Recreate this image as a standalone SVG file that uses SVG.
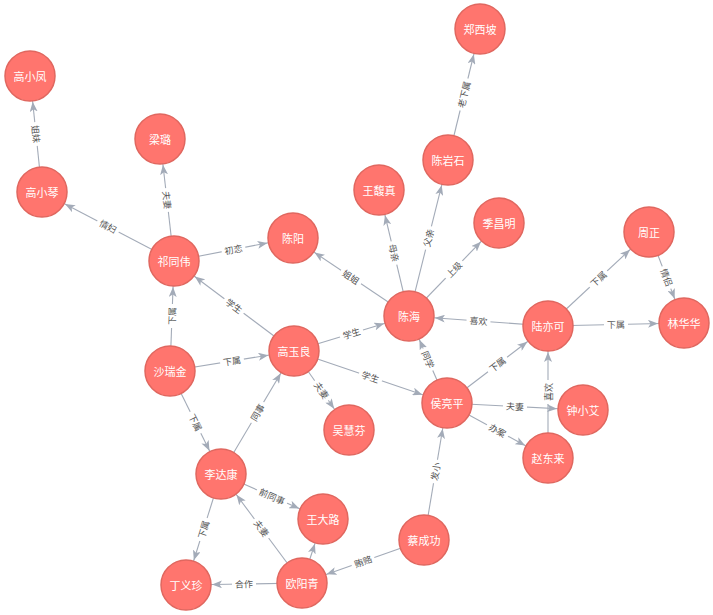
<svg xmlns="http://www.w3.org/2000/svg" width="713" height="615" viewBox="0 0 713 615">
<style>
.bg{fill:#ffffff}
.e{stroke:#a3abb8;stroke-width:1.1;fill:none;marker-end:url(#arr)}
.lb rect{fill:#ffffff}
.lb text{font-family:"Noto Sans CJK SC","Noto Sans",sans-serif;font-size:9px;fill:#555;text-anchor:middle;dominant-baseline:central}
.n circle{fill:#ff756e;stroke:#e0675f;stroke-width:1.5}
.n text{font-family:"Noto Sans CJK SC","Noto Sans",sans-serif;font-size:11px;fill:#ffffff;text-anchor:middle;dominant-baseline:central}
</style>
<defs>
<marker id="arr" markerUnits="userSpaceOnUse" markerWidth="10" markerHeight="8" refX="36" refY="4" orient="auto">
<path d="M0,0 L10,4 L0,8 L2.5,4 z" fill="#a3abb8"/>
</marker>
</defs>
<rect class="bg" x="0" y="0" width="713" height="615"/>
<g id="connectors">
<line class="e" x1="42" y1="192" x2="30" y2="76"/>
<line class="e" x1="174" y1="261" x2="42" y2="192"/>
<line class="e" x1="174" y1="261" x2="160" y2="139"/>
<line class="e" x1="174" y1="261" x2="293" y2="238"/>
<line class="e" x1="294" y1="351" x2="174" y2="261"/>
<line class="e" x1="170" y1="371" x2="174" y2="261"/>
<line class="e" x1="170" y1="371" x2="294" y2="351"/>
<line class="e" x1="170" y1="371" x2="221" y2="474"/>
<line class="e" x1="221" y1="474" x2="294" y2="351"/>
<line class="e" x1="294" y1="351" x2="349" y2="430"/>
<line class="e" x1="294" y1="351" x2="409" y2="316"/>
<line class="e" x1="294" y1="351" x2="447" y2="403"/>
<line class="e" x1="409" y1="316" x2="293" y2="238"/>
<line class="e" x1="409" y1="316" x2="379" y2="190"/>
<line class="e" x1="409" y1="316" x2="448" y2="160"/>
<line class="e" x1="409" y1="316" x2="499" y2="223"/>
<line class="e" x1="448" y1="160" x2="480" y2="29"/>
<line class="e" x1="548" y1="326" x2="409" y2="316"/>
<line class="e" x1="447" y1="403" x2="409" y2="316"/>
<line class="e" x1="447" y1="403" x2="548" y2="326"/>
<line class="e" x1="447" y1="403" x2="583" y2="410"/>
<line class="e" x1="447" y1="403" x2="548" y2="458"/>
<line class="e" x1="548" y1="458" x2="548" y2="326"/>
<line class="e" x1="548" y1="326" x2="649" y2="232"/>
<line class="e" x1="548" y1="326" x2="684" y2="323"/>
<line class="e" x1="649" y1="232" x2="684" y2="323"/>
<line class="e" x1="424" y1="540" x2="447" y2="403"/>
<line class="e" x1="424" y1="540" x2="302" y2="583"/>
<line class="e" x1="302" y1="583" x2="186" y2="585"/>
<line class="e" x1="302" y1="583" x2="221" y2="474"/>
<line class="e" x1="302" y1="583" x2="323" y2="519"/>
<line class="e" x1="221" y1="474" x2="323" y2="519"/>
<line class="e" x1="221" y1="474" x2="186" y2="585"/>
<g class="lb" transform="translate(36,134) rotate(84.1)"><rect x="-12" y="-6" width="24" height="12"/><text>姐妹</text></g>
<g class="lb" transform="translate(108,226.5) rotate(27.6)"><rect x="-12" y="-6" width="24" height="12"/><text>情妇</text></g>
<g class="lb" transform="translate(167,200) rotate(83.5)"><rect x="-12" y="-6" width="24" height="12"/><text>夫妻</text></g>
<g class="lb" transform="translate(233.5,249.5) rotate(-10.9)"><rect x="-12" y="-6" width="24" height="12"/><text>初恋</text></g>
<g class="lb" transform="translate(234,306) rotate(36.9)"><rect x="-12" y="-6" width="24" height="12"/><text>学生</text></g>
<g class="lb" transform="translate(172,316) rotate(-87.9)"><rect x="-12" y="-6" width="24" height="12"/><text>下属</text></g>
<g class="lb" transform="translate(232,361) rotate(-9.2)"><rect x="-12" y="-6" width="24" height="12"/><text>下属</text></g>
<g class="lb" transform="translate(195.5,422.5) rotate(63.7)"><rect x="-12" y="-6" width="24" height="12"/><text>下属</text></g>
<g class="lb" transform="translate(257.5,412.5) rotate(-59.3)"><rect x="-12" y="-6" width="24" height="12"/><text>同事</text></g>
<g class="lb" transform="translate(321.5,390.5) rotate(55.2)"><rect x="-12" y="-6" width="24" height="12"/><text>夫妻</text></g>
<g class="lb" transform="translate(351.5,333.5) rotate(-16.9)"><rect x="-12" y="-6" width="24" height="12"/><text>学生</text></g>
<g class="lb" transform="translate(370.5,377) rotate(18.8)"><rect x="-12" y="-6" width="24" height="12"/><text>学生</text></g>
<g class="lb" transform="translate(351,277) rotate(33.9)"><rect x="-12" y="-6" width="24" height="12"/><text>姐姐</text></g>
<g class="lb" transform="translate(394,253) rotate(76.6)"><rect x="-12" y="-6" width="24" height="12"/><text>母亲</text></g>
<g class="lb" transform="translate(428.5,238) rotate(-76)"><rect x="-12" y="-6" width="24" height="12"/><text>父亲</text></g>
<g class="lb" transform="translate(454,269.5) rotate(-45.9)"><rect x="-12" y="-6" width="24" height="12"/><text>上级</text></g>
<g class="lb" transform="translate(464,94.5) rotate(-76.3)"><rect x="-16.5" y="-6" width="33" height="12"/><text>老下属</text></g>
<g class="lb" transform="translate(478.5,321) rotate(4.1)"><rect x="-12" y="-6" width="24" height="12"/><text>喜欢</text></g>
<g class="lb" transform="translate(428,359.5) rotate(66.4)"><rect x="-12" y="-6" width="24" height="12"/><text>同学</text></g>
<g class="lb" transform="translate(497.5,364.5) rotate(-37.3)"><rect x="-12" y="-6" width="24" height="12"/><text>下属</text></g>
<g class="lb" transform="translate(515,406.5) rotate(2.9)"><rect x="-12" y="-6" width="24" height="12"/><text>夫妻</text></g>
<g class="lb" transform="translate(497.5,430.5) rotate(28.6)"><rect x="-12" y="-6" width="24" height="12"/><text>办案</text></g>
<g class="lb" transform="translate(548,392) rotate(-90)"><rect x="-12" y="-6" width="24" height="12"/><text>喜欢</text></g>
<g class="lb" transform="translate(598.5,279) rotate(-42.9)"><rect x="-12" y="-6" width="24" height="12"/><text>下属</text></g>
<g class="lb" transform="translate(616,324.5) rotate(-1.3)"><rect x="-12" y="-6" width="24" height="12"/><text>下属</text></g>
<g class="lb" transform="translate(666.5,277.5) rotate(69)"><rect x="-12" y="-6" width="24" height="12"/><text>情侣</text></g>
<g class="lb" transform="translate(435.5,471.5) rotate(-80.5)"><rect x="-12" y="-6" width="24" height="12"/><text>发小</text></g>
<g class="lb" transform="translate(363,561.5) rotate(-19.4)"><rect x="-12" y="-6" width="24" height="12"/><text>贿赂</text></g>
<g class="lb" transform="translate(244,584) rotate(-1)"><rect x="-12" y="-6" width="24" height="12"/><text>合作</text></g>
<g class="lb" transform="translate(261.5,528.5) rotate(53.4)"><rect x="-12" y="-6" width="24" height="12"/><text>夫妻</text></g>
<g class="lb" transform="translate(272,496.5) rotate(23.8)"><rect x="-16.5" y="-6" width="33" height="12"/><text>前同事</text></g>
<g class="lb" transform="translate(203.5,529.5) rotate(-72.5)"><rect x="-12" y="-6" width="24" height="12"/><text>下属</text></g>
</g>
<g id="n-gaoxiaofeng" class="n"><circle cx="30" cy="76" r="25"/><text x="30" y="76">高小凤</text></g>
<g id="n-lianglu" class="n"><circle cx="160" cy="139" r="25"/><text x="160" y="139">梁璐</text></g>
<g id="n-gaoxiaoqin" class="n"><circle cx="42" cy="192" r="25"/><text x="42" y="192">高小琴</text></g>
<g id="n-qitongwei" class="n"><circle cx="174" cy="261" r="25"/><text x="174" y="261">祁同伟</text></g>
<g id="n-chenyang" class="n"><circle cx="293" cy="238" r="25"/><text x="293" y="238">陈阳</text></g>
<g id="n-zhengxipo" class="n"><circle cx="480" cy="29" r="25"/><text x="480" y="29">郑西坡</text></g>
<g id="n-chenyanshi" class="n"><circle cx="448" cy="160" r="25"/><text x="448" y="160">陈岩石</text></g>
<g id="n-wangfuzhen" class="n"><circle cx="379" cy="190" r="25"/><text x="379" y="190">王馥真</text></g>
<g id="n-jichangming" class="n"><circle cx="499" cy="223" r="25"/><text x="499" y="223">季昌明</text></g>
<g id="n-chenhai" class="n"><circle cx="409" cy="316" r="25"/><text x="409" y="316">陈海</text></g>
<g id="n-zhouzheng" class="n"><circle cx="649" cy="232" r="25"/><text x="649" y="232">周正</text></g>
<g id="n-linhuahua" class="n"><circle cx="684" cy="323" r="25"/><text x="684" y="323">林华华</text></g>
<g id="n-luyike" class="n"><circle cx="548" cy="326" r="25"/><text x="548" y="326">陆亦可</text></g>
<g id="n-sharuijin" class="n"><circle cx="170" cy="371" r="25"/><text x="170" y="371">沙瑞金</text></g>
<g id="n-gaoyuliang" class="n"><circle cx="294" cy="351" r="25"/><text x="294" y="351">高玉良</text></g>
<g id="n-wuhuifen" class="n"><circle cx="349" cy="430" r="25"/><text x="349" y="430">吴慧芬</text></g>
<g id="n-houliangping" class="n"><circle cx="447" cy="403" r="25"/><text x="447" y="403">侯亮平</text></g>
<g id="n-zhongxiaoai" class="n"><circle cx="583" cy="410" r="25"/><text x="583" y="410">钟小艾</text></g>
<g id="n-zhaodonglai" class="n"><circle cx="548" cy="458" r="25"/><text x="548" y="458">赵东来</text></g>
<g id="n-lidakang" class="n"><circle cx="221" cy="474" r="25"/><text x="221" y="474">李达康</text></g>
<g id="n-wangdalu" class="n"><circle cx="323" cy="519" r="25"/><text x="323" y="519">王大路</text></g>
<g id="n-caichenggong" class="n"><circle cx="424" cy="540" r="25"/><text x="424" y="540">蔡成功</text></g>
<g id="n-ouyangqing" class="n"><circle cx="302" cy="583" r="25"/><text x="302" y="583">欧阳青</text></g>
<g id="n-dingyizhen" class="n"><circle cx="186" cy="585" r="25"/><text x="186" y="585">丁义珍</text></g>
</svg>
